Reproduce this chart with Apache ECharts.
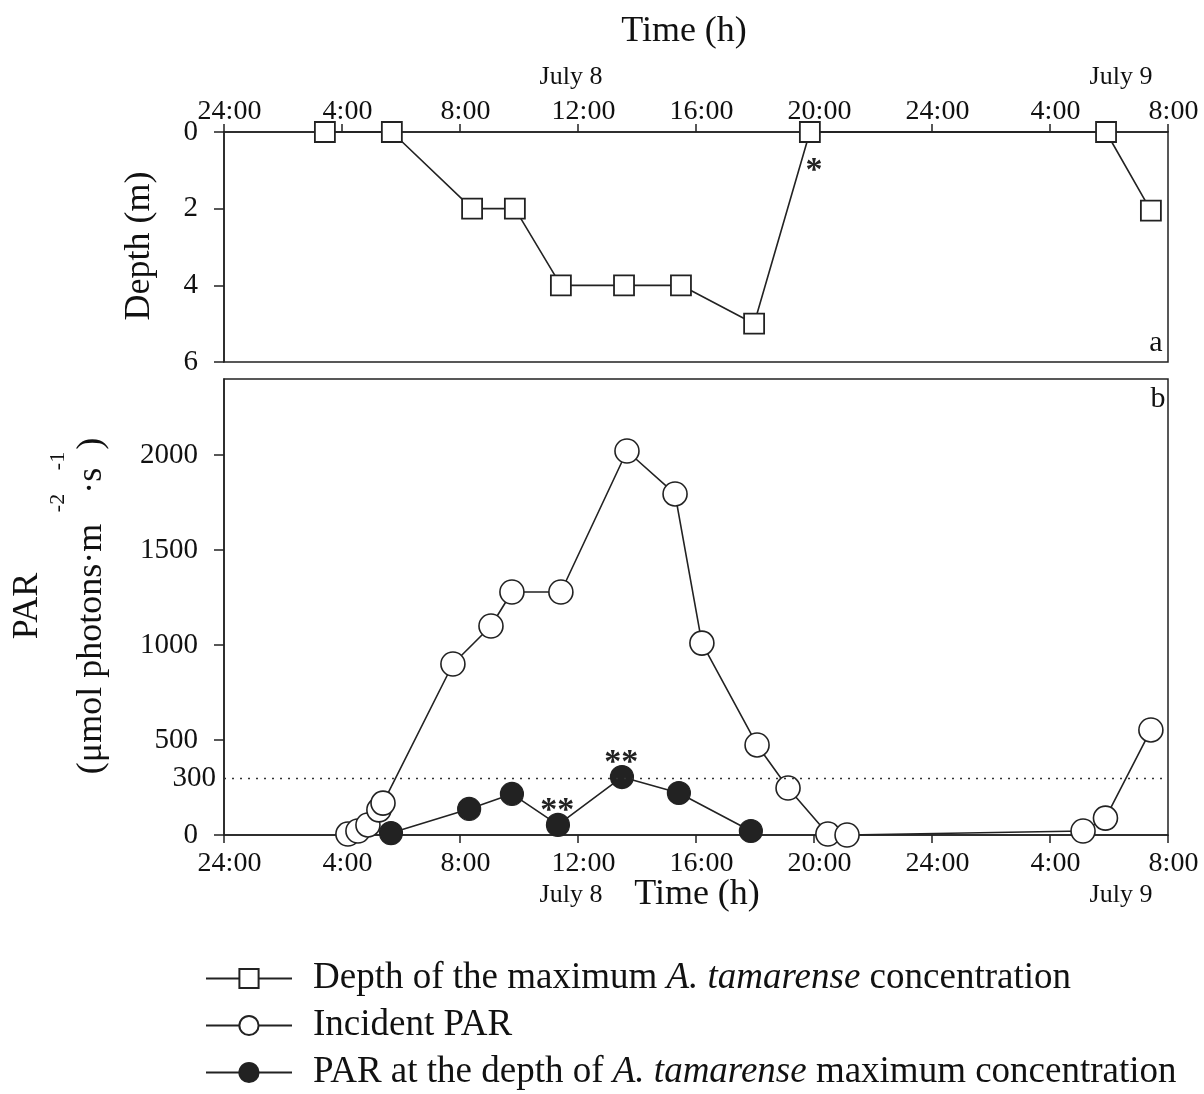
<!DOCTYPE html>
<html>
<head>
<meta charset="utf-8">
<script src="https://cdn.jsdelivr.net/npm/echarts@6/dist/echarts.min.js"></script>
<style>
html,body{margin:0;padding:0;background:#fff;}
#main{width:1204px;height:1094px;}
</style>
</head>
<body>
<div id="main"></div>
<script>
// ---- data ----
const tickLabels = ['24:00','4:00','8:00','12:00','16:00','20:00','24:00','4:00','8:00'];
const parTickValues = [0, 500, 1000, 1500, 2000];
const depthTime = [3.42, 5.69, 8.41, 9.86, 11.42, 13.56, 15.49, 17.97, 19.86, 29.9, 31.42];
const depthVal  = [0, 0, 2, 2, 4, 4, 4, 5, 0, 0, 2.05];
const depthMarks = ['', '', '', '', '', '', '', '', '*', '', ''];
const incidentTime = [4.20, 4.54, 4.88, 5.25, 5.39, 7.76, 9.05, 9.76, 11.42, 13.66, 15.29, 16.2, 18.07, 19.12, 20.47, 21.12, 29.12, 29.88, 31.42];
const incidentPAR  = [5, 21, 53, 132, 168, 900, 1100, 1279, 1279, 2021, 1795, 1010, 474, 247, 5, 0, 21, 89, 553];
const depthParTime = [5.66, 8.31, 9.76, 11.32, 13.49, 15.42, 17.86];
const depthPAR     = [10, 137, 216, 53, 305, 221, 21];
const depthParMarks = ['', '', '', '**', '**', '', ''];
const thresholdPAR = 300;
const seriesNames = [
  'Depth of the maximum A. tamarense concentration',
  'Incident PAR',
  'PAR at the depth of A. tamarense maximum concentration'
];

// ---- chart ----
const FONT = "'Liberation Serif','Times New Roman',serif";
const INK = '#222';
const chart = echarts.init(document.getElementById('main'), null, {renderer: 'canvas'});

function starLabel(mark, pos) {
  if (!mark) return undefined;
  return {show: true, formatter: mark, position: pos, color: INK,
          fontFamily: FONT, fontWeight: 'bold', fontSize: 34,
          align: 'center', verticalAlign: 'middle'};
}
const depthData = depthTime.map((t, i) => {
  const it = {value: [t, depthVal[i]]};
  const l = starLabel(depthMarks[i], [15, 50]);
  if (l) it.label = l;
  return it;
});
const incidentData = incidentTime.map((t, i) => [t, incidentPAR[i]]);
const depthParData = depthParTime.map((t, i) => {
  const it = {value: [t, depthPAR[i]]};
  const l = starLabel(depthParMarks[i], [11.5, -2]);
  if (l) it.label = l;
  return it;
});

const xCommon = {
  type: 'value', min: 0, max: 32, interval: 4,
  splitLine: {show: false},
  axisLine: {show: true, lineStyle: {color: INK, width: 1.5}},
  axisTick: {show: true, inside: false, length: 8, lineStyle: {color: INK, width: 1.5}},
  axisLabel: {color: '#111', fontFamily: FONT, fontSize: 28, padding: [0, 0, 0, 11],
              formatter: v => tickLabels[Math.round(v / 4)]}
};

const legendFmt = name => {
  if (name.indexOf('A. tamarense') < 0) return '{n|' + name + '}';
  const p = name.split('A. tamarense');
  return '{n|' + p[0] + '}{i|A. tamarense}{n|' + p[1] + '}';
};

const txt = (x, y, text, size, rot) => ({
  type: 'text', x: x, y: y, rotation: rot || 0,
  style: {text: text, font: size + 'px ' + FONT, fill: '#111',
          align: 'center', verticalAlign: 'middle', textAlign: 'center', textVerticalAlign: 'middle'}
});

const option = {
  backgroundColor: '#fff',
  animation: false,
  grid: [
    {left: 224, right: 36, top: 132, height: 230, show: true, borderColor: INK, borderWidth: 1.5, backgroundColor: 'transparent'},
    {left: 224, right: 36, top: 379, height: 456, show: true, borderColor: INK, borderWidth: 1.5, backgroundColor: 'transparent'}
  ],
  xAxis: [
    Object.assign({}, xCommon, {gridIndex: 0, position: 'top',
      axisLabel: Object.assign({}, xCommon.axisLabel, {margin: 6})}),
    Object.assign({}, xCommon, {gridIndex: 1, position: 'bottom',
      axisLabel: Object.assign({}, xCommon.axisLabel, {margin: 15})})
  ],
  yAxis: [
    {type: 'value', gridIndex: 0, min: 0, max: 6, interval: 2, inverse: true,
     splitLine: {show: false},
     axisLine: {show: true, lineStyle: {color: INK, width: 1.5}},
     axisTick: {show: true, length: 10, lineStyle: {color: INK, width: 1.5}},
     axisLabel: {color: '#111', fontFamily: FONT, fontSize: 29, margin: 26}},
    {type: 'value', gridIndex: 1, min: 0, max: 2400, interval: 500,
     splitLine: {show: false},
     axisLine: {show: true, lineStyle: {color: INK, width: 1.5}},
     axisTick: {show: true, length: 10, lineStyle: {color: INK, width: 1.5},
                customValues: parTickValues},
     axisLabel: {color: '#111', fontFamily: FONT, fontSize: 29, margin: 26,
                 customValues: parTickValues, formatter: v => String(v)}}
  ],
  legend: {
    orient: 'vertical', left: 205, top: 960, height: 150, padding: 0,
    itemWidth: 86, itemHeight: 24, itemGap: 10,
    data: seriesNames,
    formatter: legendFmt,
    textStyle: {
      color: '#111', padding: [0, 0, 0, 16],
      rich: {
        n: {fontFamily: FONT, fontSize: 37, color: '#111', lineHeight: 34},
        i: {fontFamily: FONT, fontSize: 37, fontStyle: 'italic', color: '#111', lineHeight: 34}
      }
    }
  },
  series: [
    {name: seriesNames[0], type: 'line', xAxisIndex: 0, yAxisIndex: 0, clip: false,
     symbol: 'rect', symbolSize: 20,
     itemStyle: {color: '#fff', borderColor: INK, borderWidth: 1.8},
     lineStyle: {color: INK, width: 1.6},
     data: depthData},
    {name: seriesNames[1], type: 'line', xAxisIndex: 1, yAxisIndex: 1, clip: false,
     symbol: 'circle', symbolSize: 24,
     itemStyle: {color: '#fff', borderColor: INK, borderWidth: 1.6},
     lineStyle: {color: INK, width: 1.6},
     data: incidentData,
     markLine: {
       silent: true, symbol: ['none', 'none'],
       lineStyle: {type: [2, 6], color: '#333', width: 1.3},
       label: {show: true, position: 'start', formatter: String(thresholdPAR),
               color: '#111', fontFamily: FONT, fontSize: 29, distance: 8},
       data: [{yAxis: thresholdPAR}]
     }},
    {name: seriesNames[2], type: 'line', xAxisIndex: 1, yAxisIndex: 1, clip: false,
     symbol: 'circle', symbolSize: 23,
     itemStyle: {color: '#222', borderColor: INK, borderWidth: 1.2},
     lineStyle: {color: INK, width: 1.6},
     data: depthParData}
  ],
  graphic: [
    txt(684, 32, 'Time (h)', 36),
    txt(571, 77, 'July 8', 26),
    txt(1121, 77, 'July 9', 26),
    txt(697, 895, 'Time (h)', 36),
    txt(571, 895, 'July 8', 26),
    txt(1121, 895, 'July 9', 26),
    txt(140, 246, 'Depth (m)', 36, Math.PI / 2),
    txt(28, 606, 'PAR', 36, Math.PI / 2),
    {type: 'text', x: 92, y: 606, rotation: Math.PI / 2, style: {
      text: '{a|(μmol photons·m}{g|}{a|·s}{h|}{a|)}', fill: '#111', align: 'center', verticalAlign: 'middle', textAlign: 'center', textVerticalAlign: 'middle',
      rich: {a: {fontFamily: FONT, fontSize: 36, fill: '#111', color: '#111'}, g: {width: 30}, h: {width: 18}}}},
    txt(58, 503, '-2', 22, Math.PI / 2),
    txt(58, 461, '-1', 22, Math.PI / 2),
    txt(1156, 343, 'a', 30),
    txt(1158, 399, 'b', 30)
  ]
};
chart.setOption(option);
</script>
</body>
</html>
